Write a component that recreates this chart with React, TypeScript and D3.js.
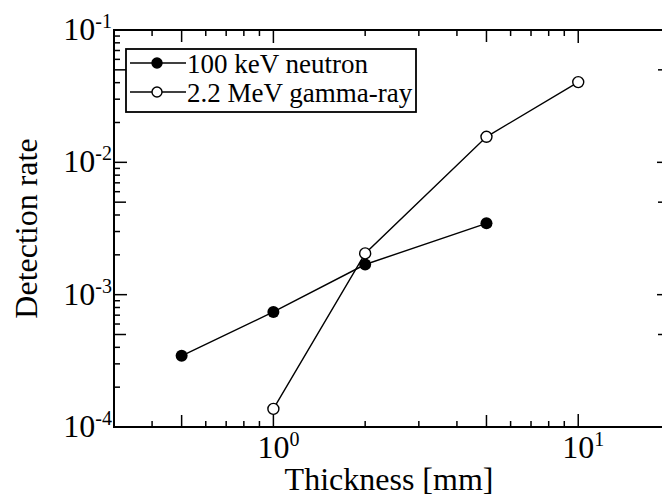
import * as d3 from 'd3';

const neutronThickness = [0.5, 1, 2, 5];
const neutronRate = [3.45e-4, 7.4e-4, 1.69e-3, 3.46e-3];
const gammaThickness = [1, 2, 5, 10];
const gammaRate = [1.37e-4, 2.05e-3, 1.56e-2, 4.04e-2];

const xLabelTicks = [1, 10];
const yLabelTicks = [1e-4, 1e-3, 1e-2, 1e-1];
const legendLabels = ['100 keV neutron', '2.2 MeV gamma-ray'];

const FONT = "'Liberation Serif', 'Times New Roman', Times, serif";
const W = 662;
const H = 499;
const margin = { top: 30, right: 670, bottom: 427, left: 114 };

export default function App() {
  const x = d3.scaleLog().domain([0.3, 20]).range([margin.left, margin.right]);
  const y = d3.scaleLog().domain([1e-4, 1e-1]).range([margin.bottom, margin.top]);

  const tickKind = (v: number) => {
    const m = Math.round(v / Math.pow(10, Math.floor(Math.log10(v) + 1e-9)));
    return m === 1 ? 13 : m === 5 ? 12 : 6;
  };

  const line = d3.line<[number, number]>()
    .x(d => x(d[0]))
    .y(d => y(d[1]));

  const neutron = neutronThickness.map((t, i) => [t, neutronRate[i]] as [number, number]);
  const gamma = gammaThickness.map((t, i) => [t, gammaRate[i]] as [number, number]);

  const xt = x.ticks();
  const yt = y.ticks();

  // legend geometry
  const lg = { x: 126, y: 49, w: 290, h: 63 };
  const rows = [63, 92];

  return (
    <svg width={W} height={H} style={{ position: 'absolute', left: 0, top: 0, background: '#fff', fontFamily: FONT }}>
      {/* ticks, bottom + top */}
      {xt.map(v => (
        <g key={'x' + v} stroke="#000" strokeWidth={1.5}>
          <line x1={x(v)} x2={x(v)} y1={margin.bottom} y2={margin.bottom - tickKind(v)} />
          <line x1={x(v)} x2={x(v)} y1={margin.top} y2={margin.top + tickKind(v)} />
        </g>
      ))}
      {/* ticks, left + right */}
      {yt.map(v => (
        <g key={'y' + v} stroke="#000" strokeWidth={1.5}>
          <line x1={margin.left} x2={margin.left + tickKind(v)} y1={y(v)} y2={y(v)} />
          <line x1={margin.right} x2={margin.right - tickKind(v)} y1={y(v)} y2={y(v)} />
        </g>
      ))}
      <rect x={margin.left} y={margin.top} width={margin.right - margin.left}
        height={margin.bottom - margin.top} fill="none" stroke="#000" strokeWidth={2} />

      {/* tick labels */}
      {xLabelTicks.map(v => (
        <g key={'xl' + v}>
          <text x={x(v)} y={458} textAnchor="middle" fontSize={32}>10</text>
          <text x={x(v) + 16} y={446} fontSize={20}>{Math.round(Math.log10(v))}</text>
        </g>
      ))}
      {yLabelTicks.map(v => (
        <text key={'yl' + v} x={112} y={y(v) + 10} textAnchor="end" fontSize={32}>
          10<tspan fontSize={20} dy={-12}>{Math.round(Math.log10(v))}</tspan>
        </text>
      ))}

      {/* axis titles */}
      <text x={(margin.left + margin.right) / 2 - 3} y={490} textAnchor="middle" fontSize={32}>
        Thickness [mm]
      </text>
      <text transform={`translate(37,${(margin.top + margin.bottom) / 2}) rotate(-90)`}
        textAnchor="middle" fontSize={32}>
        Detection rate
      </text>

      {/* series */}
      <path d={line(neutron) ?? ''} fill="none" stroke="#000" strokeWidth={1.4} />
      <path d={line(gamma) ?? ''} fill="none" stroke="#000" strokeWidth={1.4} />
      {neutron.map(d => (
        <circle key={'n' + d[0]} cx={x(d[0])} cy={y(d[1])} r={6} fill="#000" />
      ))}
      {gamma.map(d => (
        <circle key={'g' + d[0]} cx={x(d[0])} cy={y(d[1])} r={5.5} fill="#fff" stroke="#000" strokeWidth={1.4} />
      ))}

      {/* legend */}
      <rect x={lg.x} y={lg.y} width={lg.w} height={lg.h} fill="#fff" stroke="#000" strokeWidth={1.8} />
      {legendLabels.map((lab, i) => (
        <g key={lab}>
          <line x1={130} x2={186} y1={rows[i]} y2={rows[i]} stroke="#000" strokeWidth={1.4} />
          <circle cx={157} cy={rows[i]} r={5} fill={i === 0 ? '#000' : '#fff'} stroke="#000" strokeWidth={1.4} />
          <text x={187} y={rows[i] + 10} fontSize={27}>{lab}</text>
        </g>
      ))}
    </svg>
  );
}
